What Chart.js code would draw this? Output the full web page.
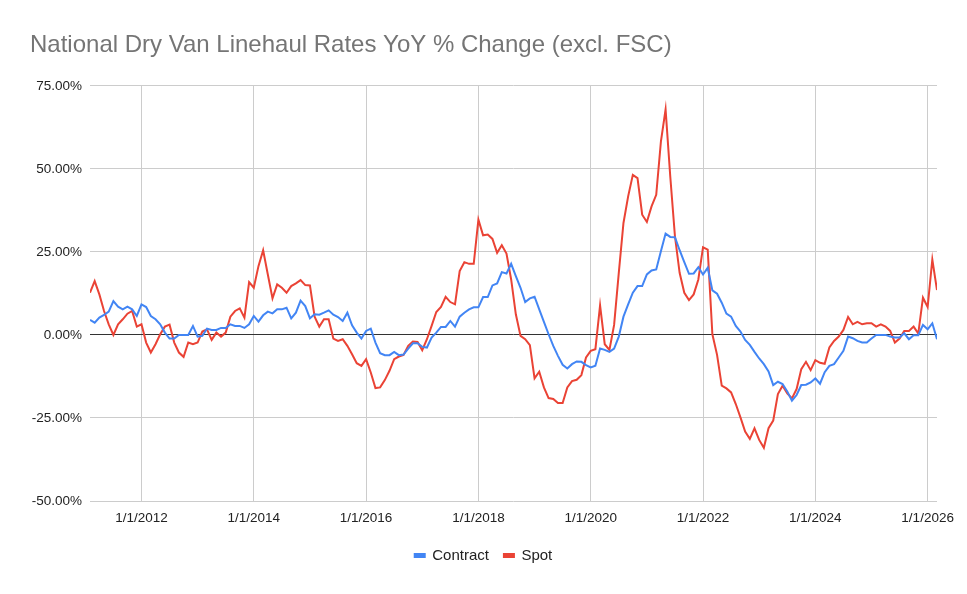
<!DOCTYPE html>
<html>
<head>
<meta charset="utf-8">
<title>National Dry Van Linehaul Rates YoY % Change</title>
<script src="https://cdn.jsdelivr.net/npm/chart.js@4.4.1/dist/chart.umd.min.js"></script>
<style>
  html, body { margin: 0; padding: 0; background: #fff; }
  #wrap { width: 967px; height: 594px; }
</style>
</head>
<body>
<div id="wrap"><canvas id="ratesChart"></canvas></div>
<script>
// monthly YoY % change (excl. FSC), Feb 2011 .. Mar 2026
const contract = [
  4.5, 3.7, 5.2, 6.0, 7.0, 10.2, 8.5, 7.7, 8.5, 7.7, 5.7,
  9.2, 8.4, 5.7, 4.7, 3.2, 0.7, -1.1, -1.1, 0, 0, 0, 2.7,
  -0.5, -0.3, 1.9, 1.5, 1.5, 2.1, 2.1, 3.2, 2.7, 2.7, 2.1, 3.2,
  5.7, 4.0, 5.9, 7.0, 6.5, 7.7, 7.7, 8.2, 5.0, 6.7, 10.3, 8.7,
  5.0, 6.2, 6.1, 6.7, 7.4, 6.1, 5.4, 4.2, 6.7, 2.9, 0.7, -1.1,
  1.2, 1.9, -2.3, -5.5, -6.1, -6.1, -5.1, -6.1, -5.9, -4.1, -2.5, -2.5,
  -3.6, -3.8, -0.8, 0.7, 2.4, 2.4, 4.2, 2.5, 5.5, 6.7, 7.7, 8.3,
  8.3, 11.4, 11.4, 14.9, 15.5, 18.9, 18.5, 21.4, 17.7, 14.2, 9.9, 11.0,
  11.5, 7.7, 3.9, 0.2, -3.3, -6.3, -9.0, -10.1, -8.8, -8.0, -8.1, -9.1,
  -9.8, -9.3, -4.1, -4.5, -5.1, -4.1, -0.5, 5.5, 9.2, 12.7, 14.7, 14.7,
  18.2, 19.4, 19.7, 25.2, 30.5, 29.5, 29.4, 25.5, 21.9, 18.4, 18.5, 20.4,
  18.2, 20.2, 13.4, 12.4, 9.7, 6.4, 5.5, 2.7, 1.0, -1.5, -3.0, -5.1,
  -7.1, -8.8, -11.0, -15.1, -14.1, -14.8, -17.0, -19.8, -18.1, -15.1, -15.0, -14.3,
  -13.1, -14.7, -11.2, -9.3, -8.8, -6.8, -4.8, -0.5, -1.0, -1.8, -2.3, -2.3,
  -1.1, 0, 0, 0, -0.5, -0.8, -0.8, 0.5, -1.3, -0.1, -0.1, 3.0,
  1.7, 3.5, -1.3
];
const spot = [
  12.7, 16.2, 12.2, 7.2, 3.2, 0, 3.2, 4.7, 6.4, 7.2, 2.5,
  3.2, -2.3, -5.3, -2.8, 0.2, 2.5, 3.1, -2.3, -5.3, -6.6, -2.3, -2.8,
  -2.3, 1.0, 1.7, -1.5, 0.7, -0.5, 0.7, 5.5, 7.2, 8.0, 5.2, 15.9,
  14.2, 20.7, 25.5, 18.2, 11.0, 15.2, 14.2, 12.7, 14.7, 15.5, 16.5, 15.0,
  14.9, 5.5, 2.5, 4.7, 4.7, -1.1, -1.8, -1.3, -3.3, -5.8, -8.5, -9.3,
  -7.3, -11.3, -16.0, -15.8, -13.6, -10.8, -7.3, -6.5, -6.0, -3.3, -2.0, -2.1,
  -4.6, -1.3, 2.7, 6.9, 8.4, 11.5, 9.9, 9.2, 19.2, 21.9, 21.4, 21.4,
  34.7, 30.0, 30.2, 28.9, 24.7, 27.0, 24.5, 16.7, 6.2, -0.3, -1.3, -3.1,
  -13.1, -11.1, -15.8, -19.0, -19.3, -20.5, -20.5, -15.8, -13.9, -13.5, -12.1, -6.8,
  -4.8, -4.3, 8.9, -2.8, -4.5, 3.0, 18.7, 33.7, 41.7, 48.2, 47.2, 36.2,
  34.0, 38.7, 42.2, 58.2, 67.9, 47.7, 29.7, 18.7, 12.7, 10.5, 12.2, 16.7,
  26.4, 25.7, 0.2, -6.0, -15.3, -16.1, -17.3, -20.8, -24.8, -29.1, -31.3, -28.1,
  -31.6, -34.0, -28.1, -25.8, -17.8, -15.3, -17.6, -19.1, -16.3, -10.3, -8.1, -10.6,
  -7.6, -8.4, -8.7, -3.8, -1.8, -0.5, 1.5, 5.4, 3.2, 3.9, 3.2, 3.5,
  3.5, 2.5, 3.2, 2.5, 1.2, -2.3, -1.1, 1.2, 1.2, 2.5, 0.4, 11.2,
  8.4, 22.7, 13.5
];

// month index (0 = Feb 2011) of each x tick and its label
const tickMonths = [11, 35, 59, 83, 107, 131, 155, 179];
const tickLabels = ['1/1/2012', '1/1/2014', '1/1/2016', '1/1/2018', '1/1/2020', '1/1/2022', '1/1/2024', '1/1/2026'];
const yTicks = [-50, -25, 0, 25, 50, 75];

const FONT = '"Liberation Sans", Arial, sans-serif';
const toPoints = arr => arr.map((v, i) => ({ x: i, y: v }));

new Chart(document.getElementById('ratesChart'), {
  type: 'line',
  data: {
    datasets: [
      {
        label: 'Contract',
        data: toPoints(contract),
        borderColor: '#4285F4',
        backgroundColor: '#4285F4',
        borderWidth: 2,
        pointRadius: 0
      },
      {
        label: 'Spot',
        data: toPoints(spot),
        borderColor: '#EA4335',
        backgroundColor: '#EA4335',
        borderWidth: 2,
        pointRadius: 0
      }
    ]
  },
  options: {
    responsive: true,
    maintainAspectRatio: false,
    animation: false,
    layout: { padding: { top: 31, left: 30, right: 30, bottom: 21 } },
    plugins: {
      title: {
        display: true,
        text: 'National Dry Van Linehaul Rates YoY % Change (excl. FSC)',
        align: 'start',
        color: '#757575',
        font: { family: FONT, size: 24, weight: 'normal' },
        padding: { top: 0, bottom: 26 }
      },
      legend: {
        position: 'bottom',
        labels: {
          boxWidth: 10,
          boxHeight: 3,
          padding: 15,
          color: '#222',
          font: { family: FONT, size: 15 }
        }
      },
      tooltip: { enabled: false }
    },
    scales: {
      x: {
        type: 'linear',
        min: 0,
        max: contract.length - 1,
        afterBuildTicks: s => { s.ticks = tickMonths.map(v => ({ value: v })); },
        afterFit: s => { s.height = 32; },
        ticks: {
          callback: v => tickLabels[tickMonths.indexOf(v)],
          autoSkip: false,
          maxRotation: 0,
          padding: 9,
          color: '#222',
          font: { family: FONT, size: 13.5 }
        },
        grid: { color: '#ccc', drawTicks: false },
        border: { display: false }
      },
      y: {
        min: -50,
        max: 75,
        afterBuildTicks: s => { s.ticks = yTicks.map(v => ({ value: v })); },
        afterFit: s => { s.width = 60; },
        ticks: {
          callback: v => v.toFixed(2) + '%',
          padding: 8,
          color: '#222',
          font: { family: FONT, size: 13.5 }
        },
        grid: {
          color: c => (c.tick && c.tick.value === 0) ? '#333' : '#ccc',
          drawTicks: false
        },
        border: { display: false }
      }
    }
  }
});
</script>
</body>
</html>
